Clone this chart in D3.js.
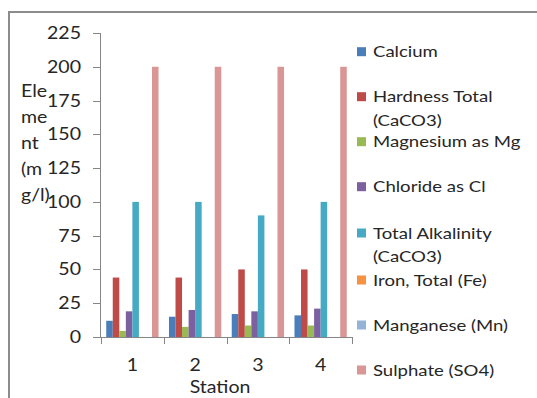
<!DOCTYPE html>
<html>
<head>
<meta charset="utf-8">
<script src="https://cdn.jsdelivr.net/npm/d3@7"></script>
<style>
  body { margin: 0; background: #fff; }
  text { font-family: Lato, "Open Sans", sans-serif; fill: #262626; }
</style>
</head>
<body>
<div id="chart"></div>
<script>
'use strict';

// chart data
var stations = ['1', '2', '3', '4'];
var seriesNames = ['Calcium', 'Hardness Total (CaCO3)', 'Magnesium as Mg', 'Chloride as Cl',
  'Total Alkalinity (CaCO3)', 'Iron, Total (Fe)', 'Manganese (Mn)', 'Sulphate (SO4)'];
var calcium = [12, 15, 17, 16];
var hardness = [44, 44, 50, 50];
var magnesium = [4.5, 7.5, 8.5, 8.5];
var chloride = [19, 20, 19, 21];
var alkalinity = [100, 100, 90, 100];
var iron = [0, 0, 0, 0];
var manganese = [0, 0, 0, 0];
var sulphate = [200, 200, 200, 200];
var yTicks = [0, 25, 50, 75, 100, 125, 150, 175, 200, 225];
var yTitle = ['Ele', 'me', 'nt', '(m', 'g/l)'];
var legendLines = [['Calcium'], ['Hardness Total', '(CaCO3)'], ['Magnesium as Mg'], ['Chloride as Cl'],
  ['Total Alkalinity', '(CaCO3)'], ['Iron, Total (Fe)'], ['Manganese (Mn)'], ['Sulphate (SO4)']];

var colors = ['#4a7ebb', '#be4b48', '#98b954', '#7d60a0', '#46aac5', '#f69240', '#95b3d7', '#d99694'];
var values = [calcium, hardness, magnesium, chloride, alkalinity, iron, manganese, sulphate];

var W = 537, H = 398;
var svg = d3.select('#chart').append('svg').attr('width', W).attr('height', H);

// frame (only top and left edges are visible)
svg.append('path')
  .attr('d', 'M9,' + H + 'V12H' + W)
  .attr('fill', 'none').attr('stroke', '#8c8c8c').attr('stroke-width', 2);

var y = d3.scaleLinear().domain([0, 225]).range([337, 33]);
var x = d3.scaleBand().domain(stations).range([101, 352]);
var xs = d3.scaleBand().domain(d3.range(seriesNames.length))
  .range([0, x.bandwidth()]).paddingInner(0).paddingOuter(0.8);

// Excel text renders wider than Lato, so stretch it horizontally a bit
var stretch = function(sel, sx) {
  sel.attr('transform', function() {
    var t = d3.select(this);
    return 'translate(' + t.attr('data-x') + ',' + t.attr('data-y') + ') scale(' + sx + ',1)';
  });
};

// bars
var groups = svg.selectAll('.grp').data(stations).enter().append('g')
  .attr('class', 'grp')
  .attr('transform', function(d) { return 'translate(' + x(d) + ',0)'; });

groups.selectAll('rect')
  .data(function(d, i) { return values.map(function(v, k) { return {k: k, v: v[i]}; }); })
  .enter().append('rect')
  .attr('x', function(d) { return xs(d.k); })
  .attr('width', xs.bandwidth())
  .attr('y', function(d) { return y(d.v); })
  .attr('height', function(d) { return y(0) - y(d.v); })
  .attr('fill', function(d) { return colors[d.k]; });

// y axis
var axisColor = '#868686';
svg.append('line').attr('x1', 100.5).attr('x2', 100.5).attr('y1', y(225)).attr('y2', y(0))
  .attr('stroke', axisColor);
var yt = svg.selectAll('.yt').data(yTicks).enter().append('g').attr('class', 'yt');
yt.append('line')
  .attr('x1', 93).attr('x2', 100)
  .attr('y1', function(d) { return Math.round(y(d)) + 0.5; })
  .attr('y2', function(d) { return Math.round(y(d)) + 0.5; })
  .attr('stroke', axisColor);
yt.append('text')
  .attr('data-x', 81).attr('data-y', function(d) { return y(d); })
  .attr('text-anchor', 'end').attr('dy', '0.35em')
  .style('font-size', '17px')
  .text(function(d) { return d; })
  .call(stretch, 1.15);

// x axis
svg.append('line').attr('x1', 100).attr('x2', 352).attr('y1', 337.5).attr('y2', 337.5)
  .attr('stroke', axisColor);
var xEdges = stations.map(function(s) { return x(s); }).concat([x.range()[1]]);
svg.selectAll('.xt').data(xEdges).enter().append('line')
  .attr('x1', function(d) { return Math.round(d) + 0.5; })
  .attr('x2', function(d) { return Math.round(d) + 0.5; })
  .attr('y1', 337).attr('y2', 344)
  .attr('stroke', axisColor);
svg.selectAll('.xl').data(stations).enter().append('text')
  .attr('data-x', function(d) { return x(d) + x.bandwidth() / 2; }).attr('data-y', 365)
  .attr('text-anchor', 'middle').attr('dy', '0.35em')
  .style('font-size', '17px')
  .text(function(d) { return d; })
  .call(stretch, 1.15);

// axis titles
svg.append('text')
  .attr('data-x', 220).attr('data-y', 387)
  .attr('text-anchor', 'middle').attr('dy', '0.35em')
  .style('font-size', '17px')
  .text('Station')
  .call(stretch, 1.15);

svg.selectAll('.ytl').data(yTitle).enter().append('text')
  .attr('data-x', 21).attr('data-y', function(d, i) { return 91.5 + i * 26; })
  .attr('dy', '0.35em')
  .style('font-size', '17px')
  .text(function(d) { return d; })
  .call(stretch, 1.15);

// legend
var legendY = [51.7, 96.7, 141.7, 186.7, 233, 280, 325, 370];
var leg = svg.selectAll('.leg').data(seriesNames).enter().append('g').attr('class', 'leg');
leg.append('rect')
  .attr('x', 357).attr('width', 9).attr('height', 9)
  .attr('y', function(d, i) { return legendY[i] - 4.5; })
  .attr('fill', function(d, i) { return colors[i]; });
leg.each(function(d, i) {
  d3.select(this).selectAll('text').data(legendLines[i]).enter().append('text')
    .attr('data-x', 373).attr('data-y', function(t, j) { return legendY[i] + j * 23.3; })
    .attr('dy', '0.35em')
    .style('font-size', '16px')
    .text(function(t) { return t; })
    .call(stretch, 1.16);
});
</script>
</body>
</html>
